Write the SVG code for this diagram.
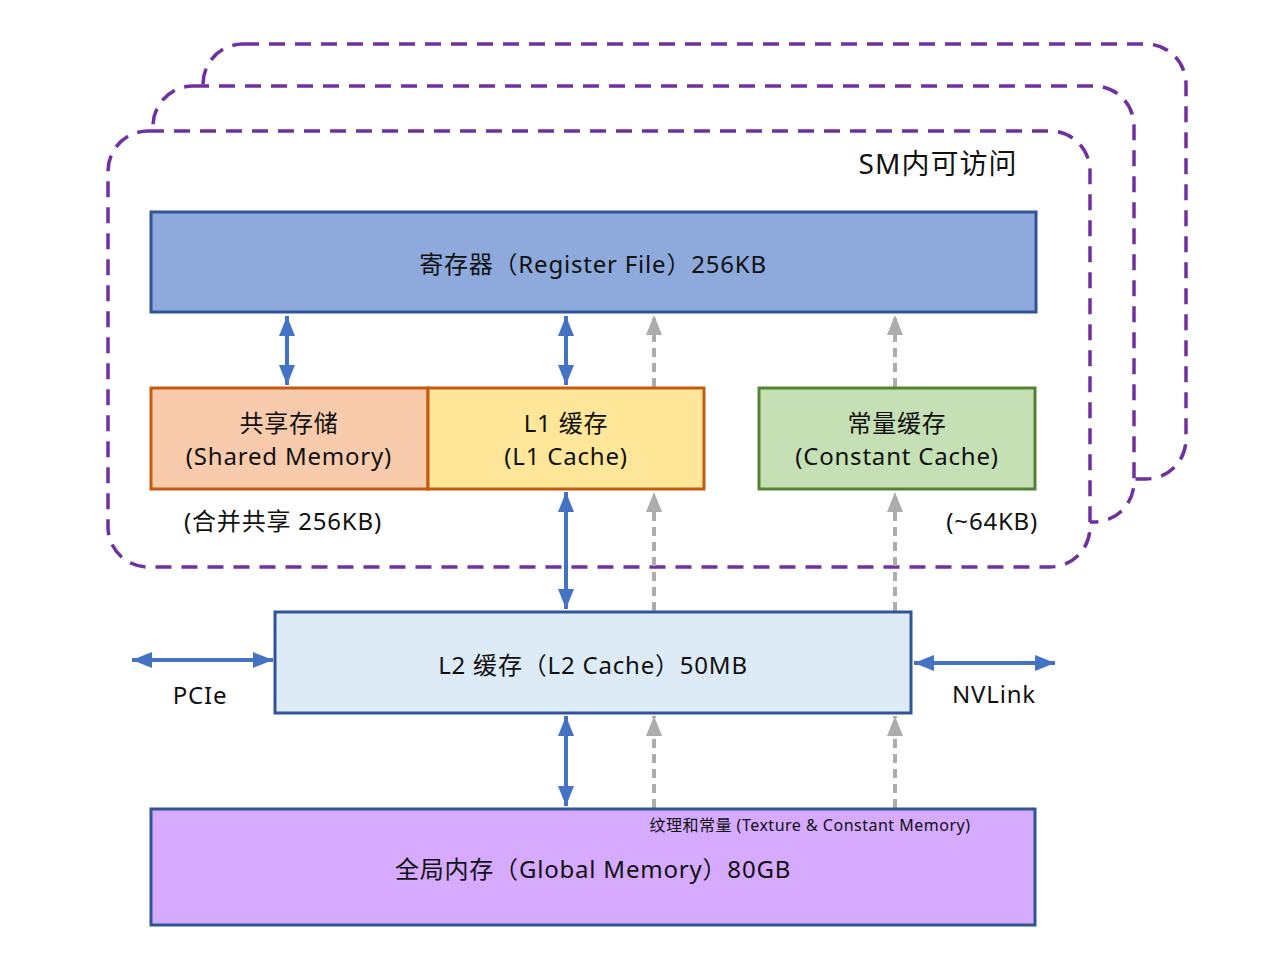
<svg xmlns="http://www.w3.org/2000/svg" width="1273" height="959" viewBox="0 0 1273 959">
<style>
text{font-family:"Noto Sans","Noto Sans CJK SC",sans-serif;fill:#111;text-anchor:middle;dominant-baseline:central}
.frame{fill:#fff;stroke:#7030A0;stroke-width:3.5;stroke-dasharray:16 10}
.box{stroke-width:3}
.lbl{font-size:24px;letter-spacing:0.8px}
.blue{stroke:#4472C4;stroke-width:4;fill:none;marker-start:url(#bh);marker-end:url(#bh)}
.gray{stroke:#AEABAB;stroke-width:4;fill:none;stroke-dasharray:9 6;marker-end:url(#gh)}
</style>
<defs>
<marker id="bh" viewBox="0 0 20 16" refX="20" refY="8" markerWidth="20" markerHeight="16" markerUnits="userSpaceOnUse" orient="auto-start-reverse"><path d="M0,0 L20,8 L0,16 z" fill="#4472C4"/></marker>
<marker id="gh" viewBox="0 0 20 16" refX="20" refY="8" markerWidth="20" markerHeight="16" markerUnits="userSpaceOnUse" orient="auto"><path d="M0,0 L20,8 L0,16 z" fill="#AEABAB"/></marker>
</defs>
<rect width="1273" height="959" fill="#fff"/>
<g id="frames">
<rect class="frame" x="203" y="44" width="983" height="435" rx="40"/>
<rect class="frame" x="153" y="86" width="981" height="436" rx="40"/>
<rect class="frame" x="108" y="131" width="982" height="436" rx="40"/>
<text x="938" y="163" style="font-size:28px;letter-spacing:1px">SM内可访问</text>
</g>
<g id="connectors">
<line class="blue" x1="287" y1="316" x2="287" y2="385"/>
<line class="blue" x1="566" y1="316" x2="566" y2="385"/>
<line class="gray" x1="654" y1="387" x2="654" y2="315"/>
<line class="gray" x1="895" y1="387" x2="895" y2="315"/>
<line class="blue" x1="566" y1="492" x2="566" y2="609"/>
<line class="gray" x1="654" y1="611" x2="654" y2="492"/>
<line class="gray" x1="895" y1="611" x2="895" y2="492"/>
<line class="blue" x1="566" y1="716" x2="566" y2="806"/>
<line class="gray" x1="654" y1="808" x2="654" y2="716"/>
<line class="gray" x1="895" y1="808" x2="895" y2="716"/>
<line class="blue" x1="132" y1="660" x2="273" y2="660"/>
<line class="blue" x1="914" y1="663" x2="1055" y2="663"/>
<text class="lbl" x="200" y="694">PCIe</text>
<text class="lbl" x="994" y="693">NVLink</text>
</g>
<g id="register">
<rect class="box" x="151" y="212" width="885" height="100" fill="#8EA9DB" stroke="#2F5597"/>
<text class="lbl" x="593" y="263">寄存器（Register File）256KB</text>
</g>
<g id="shared">
<rect class="box" x="151" y="388" width="277" height="101" fill="#F8CBAD" stroke="#C55A11"/>
<text class="lbl"><tspan x="289" y="422">共享存储</tspan><tspan x="289" y="455">(Shared Memory)</tspan></text>
<text class="lbl" x="283" y="520">(合并共享 256KB)</text>
</g>
<g id="l1">
<rect class="box" x="428" y="388" width="276" height="101" fill="#FFE699" stroke="#C55A11"/>
<text class="lbl"><tspan x="566" y="422">L1 缓存</tspan><tspan x="566" y="455">(L1 Cache)</tspan></text>
</g>
<g id="constant">
<rect class="box" x="759" y="388" width="276" height="101" fill="#C5E0B4" stroke="#548235"/>
<text class="lbl"><tspan x="897" y="422">常量缓存</tspan><tspan x="897" y="455">(Constant Cache)</tspan></text>
<text class="lbl" x="1038" y="520" style="text-anchor:end">(~64KB)</text>
</g>
<g id="l2">
<rect class="box" x="275" y="612" width="636" height="101" fill="#DDEBF7" stroke="#2F5597"/>
<text class="lbl" x="593" y="664">L2 缓存（L2 Cache）50MB</text>
</g>
<g id="global">
<rect class="box" x="151" y="809" width="884" height="116" fill="#D5AAFF" stroke="#2F5597"/>
<text x="810" y="825" style="font-size:16px;letter-spacing:0.5px">纹理和常量 (Texture &amp; Constant Memory)</text>
<text class="lbl" x="593" y="868">全局内存（Global Memory）80GB</text>
</g>
</svg>
